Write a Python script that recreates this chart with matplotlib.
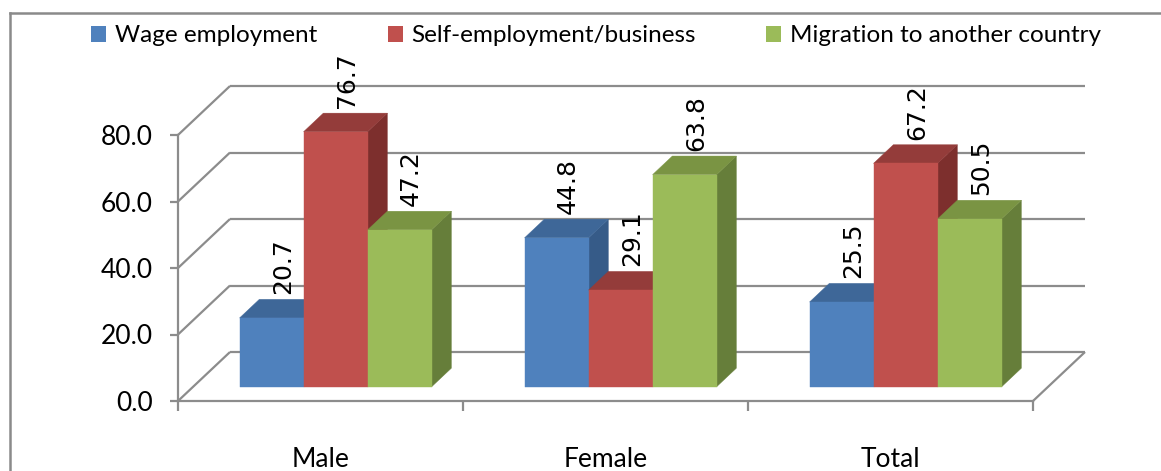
import matplotlib
matplotlib.use("Agg")
import matplotlib.pyplot as plt
from matplotlib.patches import Polygon, Patch
from matplotlib.lines import Line2D

categories = ["Male", "Female", "Total"]
series_names = ["Wage employment", "Self-employment/business", "Migration to another country"]
wage = [20.7, 44.8, 25.5]
self_emp = [76.7, 29.1, 67.2]
migration = [47.2, 63.8, 50.5]
y_ticks = [0, 20, 40, 60, 80]

# front / top / side shades for each series
front_colors = ["#4F81BD", "#C0504D", "#9BBB59"]
top_colors = ["#3E6798", "#943C3A", "#7A9443"]
side_colors = ["#365B88", "#7D2F2D", "#667E3A"]
grid_color = "#8C8C8C"

W, H = 1161, 471
fig = plt.figure(figsize=(W / 100, H / 100), dpi=100)
ax = fig.add_axes([178 / W, 1 - 401 / H, (1033 - 178) / W, (401 - 135) / H])
ax.set_xlim(-0.5, 2.5)
ax.set_ylim(0, 80)

# oblique depth: full wall depth in data units
DX = 52 / 285
DY = 49 / 3.325
bar_d0, bar_d1 = 0.29, 0.67
bar_w = 0.2246


def proj(x, v, d):
    return x + d * DX, v + d * DY


def seg(p, q):
    ax.add_line(Line2D([p[0], q[0]], [p[1], q[1]], color=grid_color, lw=1.6,
                       clip_on=False, solid_capstyle="butt"))


# walls and floor
for v in y_ticks:
    seg(proj(-0.5, v, 1), proj(2.5, v, 1))
    seg(proj(-0.5, v, 0), proj(-0.5, v, 1))
seg(proj(2.5, 0, 0), proj(2.5, 0, 1))

# bars, drawn left to right so each front hides the neighbour's side
values = [wage, self_emp, migration]
for i in range(len(categories)):
    for j, vals in enumerate(values):
        v = vals[i]
        xl = i - 1.5 * bar_w + j * bar_w
        xr = xl + bar_w
        side = [proj(xr, 0, bar_d0), proj(xr, 0, bar_d1), proj(xr, v, bar_d1), proj(xr, v, bar_d0)]
        top = [proj(xl, v, bar_d0), proj(xr, v, bar_d0), proj(xr, v, bar_d1), proj(xl, v, bar_d1)]
        front = [proj(xl, 0, bar_d0), proj(xr, 0, bar_d0), proj(xr, v, bar_d0), proj(xl, v, bar_d0)]
        for pts, c in [(side, side_colors[j]), (top, top_colors[j]), (front, front_colors[j])]:
            ax.add_patch(Polygon(pts, closed=True, facecolor=c, edgecolor=c, lw=0.3,
                                 clip_on=False, zorder=3))
        ly = proj(xl, v + 1.5, bar_d1)[1]
        lx = (xl + xr) / 2 + bar_d0 * DX + 0.04
        ax.text(lx, ly, f"{v:.1f}", rotation=90, ha="center", va="bottom",
                fontsize=18, family="DejaVu Sans", zorder=4)

# axes styling
for s in ["top", "right"]:
    ax.spines[s].set_visible(False)
for s in ["left", "bottom"]:
    ax.spines[s].set_color(grid_color)
    ax.spines[s].set_linewidth(1.6)
ax.set_facecolor("none")

ax.set_yticks(y_ticks)
ax.set_yticklabels([f"{t:.1f}" for t in y_ticks])
ax.tick_params(axis="y", length=6, width=1.6, color=grid_color, pad=12,
               labelsize=19)
ax.set_xticks([-0.5, 0.5, 1.5, 2.5])
ax.set_xticklabels([])
ax.tick_params(axis="x", which="major", length=7, width=1.6, color=grid_color)
ax.set_xticks([0, 1, 2], minor=True)
ax.set_xticklabels(categories, minor=True)
ax.tick_params(axis="x", which="minor", length=0, pad=33, labelsize=19)
for lab in ax.get_yticklabels() + ax.get_xticklabels(minor=True):
    lab.set_family("Lato")

# legend
handles = [Patch(facecolor=c, edgecolor="none") for c in front_colors]
fig.legend(handles, series_names, loc="center", bbox_to_anchor=(596 / W, 1 - 36 / H),
           ncol=3, frameon=False, prop={"family": "Lato", "size": 17.5},
           handlelength=0.62, handleheight=0.62, handletextpad=0.35,
           columnspacing=2.9, borderpad=0)

# chart frame
fig.add_artist(Line2D([10 / W, 1], [1 - 13 / H, 1 - 13 / H], color="#8A8A8A", lw=1.8))
fig.add_artist(Line2D([10 / W, 10 / W], [1 - 13 / H, 0], color="#8A8A8A", lw=1.8))

fig.savefig("out.png", dpi=100)
